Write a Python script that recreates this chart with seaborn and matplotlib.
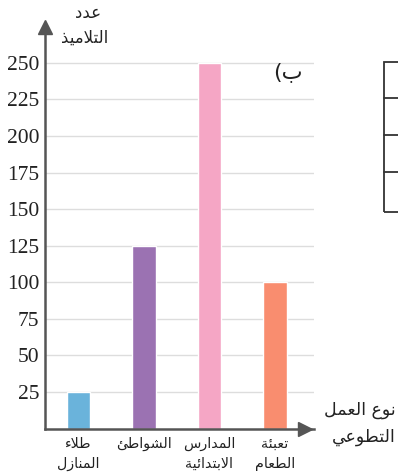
import matplotlib
matplotlib.use("Agg")
import matplotlib.pyplot as plt
import seaborn as sns
import pandas as pd

# ---- data ----
categories = ["طلاء\nالمنازل", "الشواطئ", "المدارس\nالابتدائية", "تعبئة\nالطعام"]
values = [25, 125, 250, 100]
bar_colors = ["#6AB3DB", "#9B72B2", "#F5A6C5", "#F98D6F"]
y_ticks = [25, 50, 75, 100, 125, 150, 175, 200, 225, 250]
y_title = ["عدد", "التلاميذ"]
x_title = ["نوع العمل", "التطوعي"]
part_label = "ب)"

# ---- minimal Arabic shaping (presentation forms + visual order) ----
FORMS = {
    'ا': ('\ufe8d', '\ufe8e', None, None),
    'ب': ('\ufe8f', '\ufe90', '\ufe91', '\ufe92'),
    'ة': ('\ufe93', '\ufe94', None, None),
    'ت': ('\ufe95', '\ufe96', '\ufe97', '\ufe98'),
    'د': ('\ufea9', '\ufeaa', None, None),
    'ذ': ('\ufeab', '\ufeac', None, None),
    'ر': ('\ufead', '\ufeae', None, None),
    'ز': ('\ufeaf', '\ufeb0', None, None),
    'س': ('\ufeb1', '\ufeb2', '\ufeb3', '\ufeb4'),
    'ش': ('\ufeb5', '\ufeb6', '\ufeb7', '\ufeb8'),
    'ط': ('\ufec1', '\ufec2', '\ufec3', '\ufec4'),
    'ع': ('\ufec9', '\ufeca', '\ufecb', '\ufecc'),
    'ل': ('\ufedd', '\ufede', '\ufedf', '\ufee0'),
    'م': ('\ufee1', '\ufee2', '\ufee3', '\ufee4'),
    'ن': ('\ufee5', '\ufee6', '\ufee7', '\ufee8'),
    'و': ('\ufeed', '\ufeee', None, None),
    'ي': ('\ufef1', '\ufef2', '\ufef3', '\ufef4'),
    'ئ': ('\ufe89', '\ufe8a', '\ufe8b', '\ufe8c'),
    'ء': ('\ufe80', None, None, None),
}
MIRROR = {'(': ')', ')': '('}


def _joins_next(c):
    return c in FORMS and FORMS[c][2] is not None


def _joins_prev(c):
    return c in FORMS and FORMS[c][1] is not None


def shape_line(s):
    out = []
    i, n = 0, len(s)
    while i < n:
        c = s[i]
        if c not in FORMS:
            out.append(MIRROR.get(c, c))
            i += 1
            continue
        prev = s[i - 1] if i > 0 else None
        link_prev = prev is not None and _joins_next(prev) and _joins_prev(c)
        if c == 'ل' and i + 1 < n and s[i + 1] == 'ا':
            out.append('\ufefc' if link_prev else '\ufefb')
            i += 2
            continue
        nxt = s[i + 1] if i + 1 < n else None
        link_next = nxt is not None and _joins_next(c) and _joins_prev(nxt)
        iso, fin, ini, med = FORMS[c]
        if link_prev and link_next:
            g = med
        elif link_prev:
            g = fin
        elif link_next:
            g = ini
        else:
            g = iso
        out.append(g)
        i += 1
    return ''.join(reversed(out))


def shape(s):
    return '\n'.join(shape_line(line) for line in s.split('\n'))


AR_FONT = ['DejaVu Sans']

# ---- figure ----
W, H = 398, 476
sns.set_theme(style="white")
plt.rcParams['font.family'] = ['Liberation Serif', 'DejaVu Serif']
fig = plt.figure(figsize=(W / 100, H / 100), dpi=100)

left, right, bottom, top = 45, 314, 428.5, 27
ax = fig.add_axes([left / W, 1 - bottom / H, (right - left) / W, (bottom - top) / H])

df = pd.DataFrame({"cat": categories, "val": values})
sns.barplot(data=df, x="cat", y="val", hue="cat", palette=bar_colors,
            width=0.36, legend=False, ax=ax, saturation=1, zorder=3)

px_per_unit = 36.56 / 25
ax.set_ylim(0, (bottom - top) / px_per_unit)
ax.set_xlim(-0.511, (right - 78.5) / 65.5)
ax.set_yticks(y_ticks)
ax.set_yticklabels([str(v) for v in y_ticks], fontsize=15.5, color="#222222")
ax.set_xticks(range(len(categories)))
ax.set_xticklabels([shape(c) for c in categories], fontsize=10.3,
                   family=AR_FONT, color="#222222", linespacing=1.55, va="top")
ax.tick_params(axis="both", length=0)
ax.tick_params(axis="y", pad=4)
ax.tick_params(axis="x", pad=6)
ax.set_xlabel("")
ax.set_ylabel("")
ax.yaxis.grid(True, color="#DDDDDD", linewidth=1, zorder=0)
ax.xaxis.grid(False)
for side in ("top", "right"):
    ax.spines[side].set_visible(False)
for side in ("left", "bottom"):
    ax.spines[side].set_color("#555555")
    ax.spines[side].set_linewidth(1.8)
    ax.spines[side].set_zorder(5)

# arrowheads on the axes
ax.plot([0], [1], marker="^", markersize=10.5, color="#555555",
        transform=ax.transAxes, clip_on=False, zorder=6)
ax.plot([(305 - left) / (right - left)], [0], marker=">", markersize=10.5,
        color="#555555", transform=ax.transAxes, clip_on=False, zorder=6)


def ftext(x, y, s, **kw):
    fig.text(x / W, 1 - y / H, s, **kw)


# axis titles
ftext(88, 13, shape(y_title[0]), ha="center", va="center", fontsize=12,
      family=AR_FONT, color="#222222")
ftext(85, 38, shape(y_title[1]), ha="center", va="center", fontsize=12,
      family=AR_FONT, color="#222222")
ftext(396, 410, shape(x_title[0]), ha="right", va="center", fontsize=12.5,
      family=AR_FONT, color="#222222")
ftext(396, 437, shape(x_title[1]), ha="right", va="center", fontsize=12.5,
      family=AR_FONT, color="#222222")

# part label
ftext(288, 72, shape(part_label), ha="center", va="center", fontsize=16,
      family=AR_FONT, color="#222222")

# neighbouring table edge
tbl = plt.Rectangle((384 / W, 1 - 212 / H), 20 / W, 150 / H, transform=fig.transFigure,
                    fill=False, edgecolor="#333333", linewidth=1.3, clip_on=False)
fig.add_artist(tbl)
for yy in (98, 135, 172):
    fig.add_artist(plt.Line2D([384 / W, 1], [1 - yy / H] * 2, transform=fig.transFigure,
                              color="#333333", linewidth=1.3))

fig.savefig("out.png", dpi=100)
